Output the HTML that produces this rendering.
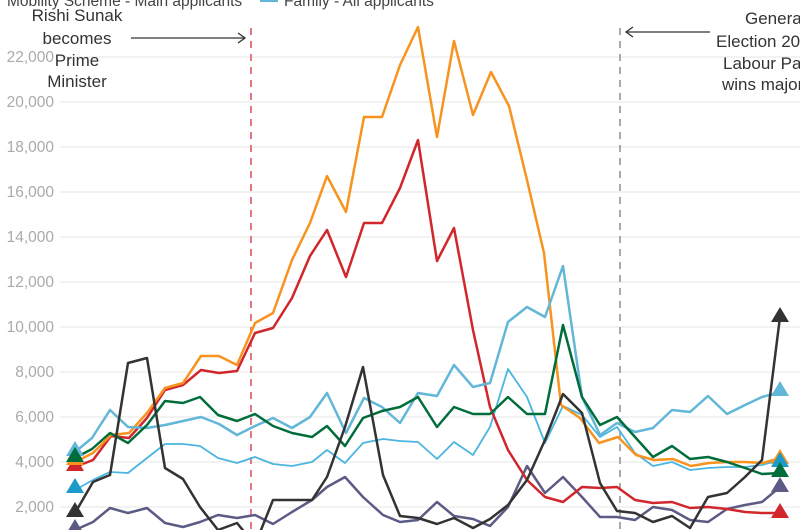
<!DOCTYPE html>
<html><head><meta charset="utf-8"><style>
html,body{margin:0;padding:0;background:#fff;overflow:hidden}
svg{display:block;font-family:"Liberation Sans",sans-serif}
</style></head><body>
<svg width="800" height="530" viewBox="0 0 800 530">
<g stroke="#ebebeb" stroke-width="1.3">
<line x1="60" x2="800" y1="57" y2="57"/><line x1="60" x2="800" y1="102" y2="102"/><line x1="60" x2="800" y1="147" y2="147"/><line x1="60" x2="800" y1="192" y2="192"/><line x1="60" x2="800" y1="237" y2="237"/><line x1="60" x2="800" y1="282" y2="282"/><line x1="60" x2="800" y1="327" y2="327"/><line x1="60" x2="800" y1="372" y2="372"/><line x1="60" x2="800" y1="417" y2="417"/><line x1="60" x2="800" y1="462" y2="462"/><line x1="60" x2="800" y1="507" y2="507"/>
</g>
<g fill="#aaa" font-size="15.5" text-anchor="end">
<text x="54" y="62">22,000</text><text x="54" y="107">20,000</text><text x="54" y="152">18,000</text><text x="54" y="197">16,000</text><text x="54" y="242">14,000</text><text x="54" y="287">12,000</text><text x="54" y="332">10,000</text><text x="54" y="377">8,000</text><text x="54" y="422">6,000</text><text x="54" y="467">4,000</text><text x="54" y="512">2,000</text>
</g>
<g fill="#444" font-size="15.5">
<text x="7" y="6">Mobility Scheme - Main applicants</text>
<rect x="260" y="-2" width="18" height="4" fill="#62b7d8"/>
<text x="284" y="6">Family - All applicants</text>
</g>
<line x1="251" y1="28" x2="251" y2="530" stroke="#e07a80" stroke-width="2" stroke-dasharray="7,6"/>
<line x1="620" y1="28" x2="620" y2="530" stroke="#aaa" stroke-width="2" stroke-dasharray="7,6"/>
<g fill="none" stroke-linejoin="round" stroke-linecap="round">
<polyline stroke="#5b5b85" stroke-width="2.5" points="75,530 93,522 110,508 128,513 147,508 165,523 183,527 200,522 218,515 237,518 255,515 273,524 292,512 312,500 327,487 345,477 363,497 383,515 400,522 418,520 437,502 454,516 473,519 490,526 508,507 527,466 545,493 563,477 582,497 600,517 617,517 635,520 653,507 672,510 690,520 708,522 727,509 745,505 762,502 780,487"/>
<polyline stroke="#4bb6e0" stroke-width="1.8" points="75,490 93,480 110,472 128,473 147,458 165,444 183,444 200,446 218,458 237,463 255,457 273,464 292,466 312,462 327,450 345,463 363,443 383,439 400,441 418,442 437,459 454,442 473,455 490,427 508,369 527,397 545,443 563,406 582,415 600,437 617,427 635,453 653,466 672,462 690,470 708,468 727,467 745,467 762,465 780,460"/>
<polyline stroke="#d0262c" stroke-width="2.5" points="75,467 93,460 111,436 129,438 147,418 165,390 183,385 201,370 219,373 237,371 255,333 273,328 292,298 310,256 327,230 346,277 364,223 382,223 400,188 418,140 437,261 454,228 473,330 490,407 508,450 527,480 545,497 563,502 582,487 600,488 617,487 635,500 653,503 672,502 690,508 708,507 727,509 745,512 762,513 780,513"/>
<polyline stroke="#f7931e" stroke-width="2.5" points="75,462 93,453 111,435 129,433 147,413 165,388 183,383 201,356 219,356 237,365 255,323 273,313 292,260 310,223 327,176 346,212 364,117 382,117 400,65 418,27 437,137 454,41 473,115 491,72 509,106 527,180 544,253 561,405 580,418 599,443 618,437 636,455 654,460 673,459 691,466 709,463 727,462 745,462 763,463 780,458"/>
<polyline stroke="#62b7d8" stroke-width="2.5" points="75,452 92,438 110,410 128,427 147,428 165,425 183,421 201,417 219,424 237,435 255,426 273,418 292,428 310,417 327,393 346,433 364,398 382,407 400,423 418,393 437,396 454,365 473,387 490,383 508,322 527,307 545,317 563,266 582,397 600,435 617,423 635,432 653,428 672,410 690,412 708,396 727,414 745,405 762,397 780,392"/>
<polyline stroke="#006d3a" stroke-width="2.5" points="75,458 92,449 110,433 128,443 147,425 165,401 183,403 200,397 218,415 237,421 255,414 273,426 292,433 312,437 327,426 345,446 363,418 382,411 400,407 418,397 437,427 454,407 473,414 490,414 508,397 527,414 545,414 563,325 582,397 600,425 617,417 635,437 653,457 672,446 690,459 708,457 727,462 745,468 762,474 780,473"/>
<polyline stroke="#333" stroke-width="2.5" points="75,513 93,482 110,475 128,363 147,358 165,468 183,479 200,507 218,530 237,523 255,545 273,500 292,500 312,500 327,477 345,427 363,367 383,475 400,516 418,518 437,524 454,518 473,528 490,519 508,505 527,480 545,440 563,394 582,413 600,483 617,511 635,513 653,522 672,516 690,528 708,497 727,493 745,477 762,460 780,317"/>
</g>
<defs><path id="t" d="M0,-9 L9,6 L-9,6 Z"/></defs>
<use href="#t" x="75" y="528" fill="#5b5b85"/>
<use href="#t" x="75" y="511" fill="#333"/>
<use href="#t" x="75" y="487" fill="#1a9bc9"/>
<use href="#t" x="75" y="465" fill="#d0262c"/>
<use href="#t" x="75" y="459" fill="#f7931e"/>
<use href="#t" x="75" y="450" fill="#62b7d8"/>
<use href="#t" x="75" y="456" fill="#006d3a"/>
<use href="#t" x="780" y="316" fill="#333"/>
<use href="#t" x="780" y="390" fill="#62b7d8"/>
<use href="#t" x="780" y="458" fill="#f7931e"/>
<use href="#t" x="780" y="461" fill="#1a9bc9"/>
<use href="#t" x="780" y="471" fill="#006d3a"/>
<use href="#t" x="780" y="486" fill="#5b5b85"/>
<use href="#t" x="780" y="512" fill="#d0262c"/>
<g fill="#333" font-size="17" text-anchor="middle">
<text x="77" y="21">Rishi Sunak</text><text x="77" y="44">becomes</text><text x="77" y="66">Prime</text><text x="77" y="87">Minister</text>
</g>
<g stroke="#333" stroke-width="1.3" fill="none">
<line x1="131" y1="38" x2="245" y2="38"/><polyline points="238,33 245,38 238,43"/>
<line x1="710" y1="32" x2="626" y2="32"/><polyline points="633,27 626,32 633,37"/>
</g>
<g fill="#333" font-size="17">
<text x="745" y="24">General</text><text x="716" y="47">Election 2024:</text><text x="723" y="69">Labour Party</text><text x="722" y="90">wins majority</text>
</g>
</svg>
</body></html>
